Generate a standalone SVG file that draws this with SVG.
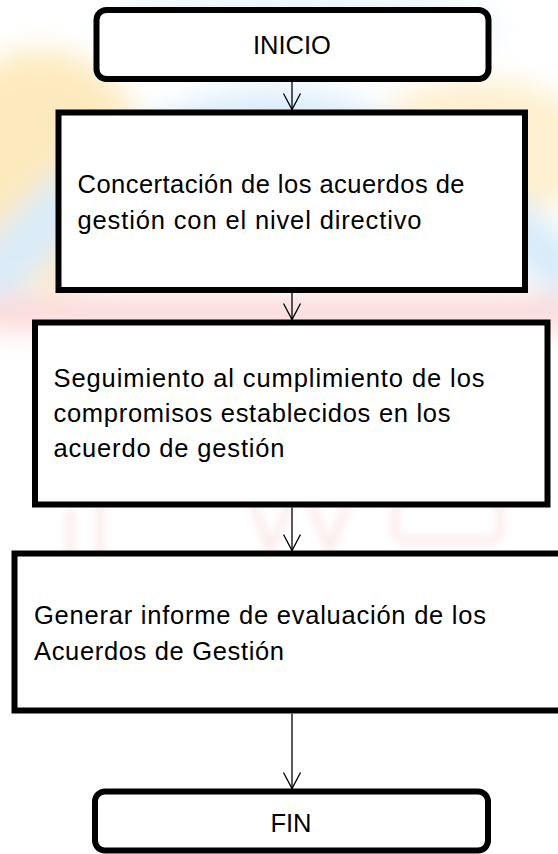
<svg xmlns="http://www.w3.org/2000/svg" width="558" height="854" viewBox="0 0 558 854">
<defs>
<style>
.box{fill:#fff;stroke:#000;stroke-width:6}
.lbl{font-family:"Liberation Sans",Arial,sans-serif;font-size:25.5px;fill:#000}
.mid{text-anchor:middle}
.conn{stroke:#000;stroke-width:1.3;fill:none}
</style>
<marker id="arr" markerUnits="userSpaceOnUse" markerWidth="20" markerHeight="20" refX="18" refY="10" orient="auto" viewBox="0 0 20 20">
<path d="M2,1.5 L18,10 L2,18.5" fill="none" stroke="#000" stroke-width="1.3"/>
</marker>
<filter id="blur" x="-20%" y="-20%" width="140%" height="140%"><feGaussianBlur stdDeviation="14"/></filter>
<filter id="blur2" x="-20%" y="-20%" width="140%" height="140%"><feGaussianBlur stdDeviation="4"/></filter>
</defs>
<g id="background">
<rect x="0" y="0" width="558" height="854" fill="#fff"/>
<g filter="url(#blur)" opacity="0.55">
<ellipse cx="40" cy="170" rx="110" ry="120" fill="#fbd98a"/>
<ellipse cx="480" cy="150" rx="120" ry="70" fill="#fde3a8"/>
<path d="M-20,300 C80,160 200,110 300,120 C400,130 470,200 580,280" fill="none" stroke="#b9dcf5" stroke-width="55"/>
<ellipse cx="300" cy="30" rx="200" ry="40" fill="#dcecf8"/>
<rect x="-20" y="296" width="600" height="34" fill="#f7b8b8"/>
</g>
<g filter="url(#blur2)" opacity="0.35" fill="none" stroke="#f4c6c6" stroke-width="8">
<path d="M70,510 L70,560 M100,500 L100,560"/>
<path d="M240,470 L270,550 L300,480 L330,550 L360,470"/>
<rect x="395" y="500" width="105" height="40" rx="8"/>
</g>
</g>
<g id="connectors">
<line class="conn" x1="292" y1="82" x2="292" y2="109.5" marker-end="url(#arr)"/>
<line class="conn" x1="292" y1="293" x2="292" y2="319.5" marker-end="url(#arr)"/>
<line class="conn" x1="292" y1="507.5" x2="292" y2="550.5" marker-end="url(#arr)"/>
<line class="conn" x1="292" y1="713.5" x2="292" y2="788.5" marker-end="url(#arr)"/>
</g>
<g id="inicio">
<rect class="box" x="96.5" y="10" width="392" height="69" rx="10"/>
<text class="lbl mid" x="292" y="53.5">INICIO</text>
</g>
<g id="concertacion">
<rect class="box" x="58.5" y="112.5" width="466.5" height="177.5"/>
<text class="lbl" x="77.5" y="193" textLength="387">Concertación de los acuerdos de</text>
<text class="lbl" x="77.5" y="229" textLength="344">gestión con el nivel directivo</text>
</g>
<g id="seguimiento">
<rect class="box" x="35" y="322.5" width="512.5" height="182"/>
<text class="lbl" x="53.5" y="387" textLength="431">Seguimiento al cumplimiento de los</text>
<text class="lbl" x="53.5" y="422" textLength="397">compromisos establecidos en los</text>
<text class="lbl" x="53.5" y="457" textLength="231">acuerdo de gestión</text>
</g>
<g id="informe">
<rect class="box" x="14.5" y="553.5" width="550" height="157"/>
<text class="lbl" x="34" y="624" textLength="452">Generar informe de evaluación de los</text>
<text class="lbl" x="34" y="660" textLength="250">Acuerdos de Gestión</text>
</g>
<g id="fin">
<rect class="box" x="95" y="791.5" width="393" height="59" rx="10"/>
<text class="lbl mid" x="291" y="832">FIN</text>
</g>
</svg>
